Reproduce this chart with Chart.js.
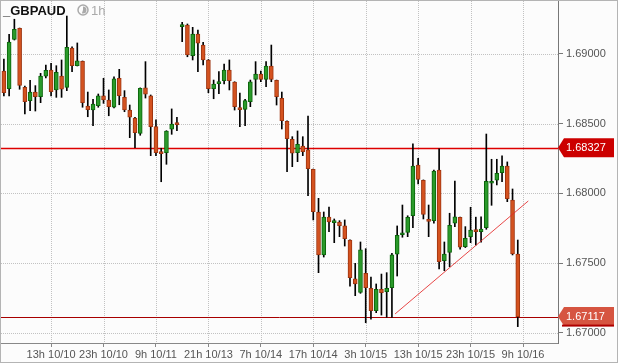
<!DOCTYPE html>
<html>
<head>
<meta charset="utf-8">
<script src="https://cdn.jsdelivr.net/npm/chart.js@4.4.0/dist/chart.umd.min.js"></script>
<style>
  html, body { margin: 0; padding: 0; background: #fcfcfc; }
  #wrap { width: 618px; height: 363px; }
</style>
</head>
<body>
<div id="wrap"><canvas id="chart" width="618" height="363"></canvas></div>
<script>
// GBPAUD 1h candles (index 0 = first candle on the left)
const opens = [1.68878,1.68751,1.69105,1.69184,1.68761,1.68665,1.68727,1.68694,1.68840,1.68885,
  1.68742,1.68842,1.68761,1.69043,1.68916,1.68948,1.68627,1.68598,1.68629,1.68699,
  1.68670,1.68618,1.68826,1.68689,1.68598,1.68541,1.68431,1.68758,1.68699,1.68479,
  1.68295,1.68292,1.68460,1.68503,1.69196,1.69208,1.68988,1.69143,1.69064,1.68957,
  1.68751,1.68787,1.68808,1.68885,1.68799,1.68615,1.68603,1.68658,1.68818,1.68856,
  1.68818,1.68914,1.68811,1.68682,1.68517,1.68388,1.68292,1.68340,1.68312,1.68173,
  1.67867,1.67559,1.67831,1.67790,1.67795,1.67767,1.67666,1.67387,1.67291,1.67427,
  1.67320,1.67159,1.67313,1.67296,1.67324,1.67564,1.67704,1.67721,1.67840,1.68204,
  1.68094,1.67812,1.67805,1.68168,1.67518,1.67578,1.67786,1.67829,1.67618,1.67690,
  1.67738,1.67726,1.67754,1.68073,1.68096,1.68149,1.68197,1.67953,1.67566];
const highs = [1.68964,1.69141,1.69249,1.69186,1.68770,1.68811,1.68773,1.68861,1.68921,1.68933,
  1.68916,1.68957,1.69272,1.69052,1.69079,1.68950,1.68727,1.68675,1.68713,1.68826,
  1.68742,1.68837,1.68890,1.68737,1.68634,1.68546,1.68757,1.68945,1.68706,1.68527,
  1.68324,1.68450,1.68606,1.68545,1.69227,1.69215,1.69191,1.69172,1.69084,1.68960,
  1.68813,1.68873,1.68928,1.68957,1.68801,1.68720,1.68675,1.68813,1.68945,1.68878,
  1.68945,1.69064,1.68813,1.68727,1.68520,1.68407,1.68448,1.68407,1.68555,1.68175,
  1.67965,1.67867,1.67903,1.67817,1.67805,1.67810,1.67668,1.67499,1.67652,1.67604,
  1.67401,1.67351,1.67422,1.67432,1.67571,1.67767,1.67917,1.67840,1.68355,1.68252,
  1.68097,1.67917,1.68168,1.68319,1.67652,1.67858,1.68089,1.67830,1.67762,1.67901,
  1.67830,1.67833,1.68426,1.68245,1.68245,1.68269,1.68226,1.68032,1.67666];
const lows = [1.68699,1.68699,1.69100,1.68747,1.68570,1.68593,1.68591,1.68651,1.68828,1.68699,
  1.68689,1.68689,1.68737,1.68873,1.68914,1.68618,1.68550,1.68486,1.68618,1.68646,
  1.68557,1.68614,1.68636,1.68586,1.68400,1.68328,1.68417,1.68684,1.68271,1.68270,
  1.68084,1.68209,1.68424,1.68450,1.69088,1.68980,1.68957,1.68873,1.68921,1.68722,
  1.68679,1.68715,1.68785,1.68742,1.68598,1.68479,1.68486,1.68622,1.68706,1.68801,
  1.68765,1.68801,1.68634,1.68462,1.68156,1.68192,1.68228,1.68271,1.67984,1.67810,
  1.67432,1.67544,1.67726,1.67647,1.67690,1.67623,1.67336,1.67267,1.67284,1.67073,
  1.67098,1.67145,1.67128,1.67112,1.67112,1.67408,1.67686,1.67690,1.67754,1.68068,
  1.67817,1.67690,1.67786,1.67458,1.67446,1.67475,1.67762,1.67600,1.67612,1.67647,
  1.67630,1.67650,1.67743,1.67915,1.68061,1.68084,1.67941,1.67559,1.67045];
const closes = [1.68722,1.69086,1.69177,1.68775,1.68658,1.68727,1.68694,1.68842,1.68883,1.68730,
  1.68869,1.68747,1.69048,1.68916,1.68950,1.68651,1.68600,1.68641,1.68699,1.68670,
  1.68622,1.68821,1.68701,1.68598,1.68546,1.68436,1.68754,1.68711,1.68479,1.68292,
  1.68285,1.68448,1.68498,1.68493,1.69208,1.68993,1.69143,1.69077,1.68957,1.68751,
  1.68785,1.68799,1.68885,1.68808,1.68622,1.68600,1.68665,1.68801,1.68856,1.68818,
  1.68914,1.68818,1.68694,1.68522,1.68393,1.68288,1.68352,1.68299,1.68177,1.67869,
  1.67559,1.67831,1.67795,1.67805,1.67769,1.67676,1.67396,1.67351,1.67595,1.67324,
  1.67159,1.67313,1.67288,1.67320,1.67559,1.67700,1.67716,1.67829,1.68197,1.68101,
  1.67850,1.67800,1.68161,1.67511,1.67566,1.67772,1.67833,1.67614,1.67678,1.67738,
  1.67726,1.67745,1.68087,1.68082,1.68144,1.68197,1.67962,1.67566,1.67117];

// axis labels
const xTickPos = [9, 19, 29, 39, 49, 59, 69, 79, 89, 99];
const xTickLabels = ['13h 10/10','23h 10/10','9h 10/11','21h 10/13','7h 10/14',
  '17h 10/14','3h 10/15','13h 10/15','23h 10/15','9h 10/16'];
const yTicks = [1.670, 1.675, 1.680, 1.685, 1.690];

// levels and trend line
const resistance = 1.68327;
const lastPrice = 1.67117;
const trendX = [74.6, 100];
const trendY = [1.67136, 1.67946];

const FONT = 'Liberation Sans, Arial, sans-serif';
const idx = opens.map((_, i) => i);
const isUp = i => closes[i] >= opens[i];

function drawTag(ctx, y, bg, band) {
  ctx.save();
  ctx.fillStyle = bg;
  ctx.beginPath();
  ctx.moveTo(558, y);
  ctx.lineTo(564, y - 9.5);
  ctx.lineTo(614, y - 9.5);
  ctx.lineTo(614, y + 9.5);
  ctx.lineTo(564, y + 9.5);
  ctx.closePath();
  ctx.fill();
  if (band) {
    ctx.fillStyle = band;
    ctx.fillRect(562, y + 8, 52, 2);
  }
  ctx.restore();
}

function seg(ctx, x1, y1, x2, y2) {
  ctx.beginPath();
  ctx.moveTo(x1, y1);
  ctx.lineTo(x2, y2);
  ctx.stroke();
}

const decor = {
  id: 'decor',
  beforeDraw(chart) {
    const ctx = chart.ctx;
    ctx.save();
    ctx.fillStyle = '#fcfcfc';
    ctx.fillRect(0, 0, chart.width, chart.height);
    ctx.restore();
  },
  beforeDatasetsDraw(chart) {
    const { ctx, chartArea: a, scales: { x, y } } = chart;
    ctx.save();
    // dotted grid, positions from the scales
    ctx.strokeStyle = '#c2c2c2';
    ctx.lineWidth = 1;
    ctx.setLineDash([1, 1]);
    xTickPos.forEach(v => {
      const px = Math.round(x.getPixelForValue(v)) + 0.5;
      seg(ctx, px, a.top, px, a.bottom);
    });
    yTicks.forEach(v => {
      const py = Math.round(y.getPixelForValue(v)) + 0.5;
      seg(ctx, a.left, py, a.right, py);
    });
    ctx.setLineDash([]);
    let py = Math.round(y.getPixelForValue(resistance)) + 0.5;
    ctx.strokeStyle = '#dd0000';
    ctx.lineWidth = 1.5;
    seg(ctx, a.left, py, a.right, py);
    py = Math.round(y.getPixelForValue(lastPrice)) + 0.5;
    ctx.strokeStyle = '#a80000';
    ctx.lineWidth = 1;
    seg(ctx, a.left, py, a.right, py);
    ctx.restore();
  },
  afterDraw(chart) {
    const { ctx, scales: { y } } = chart;
    ctx.save();
    // outer frame
    ctx.strokeStyle = '#b4b4b4';
    ctx.lineWidth = 1;
    ctx.strokeRect(0.5, 0.5, 617, 362);
    // title
    ctx.fillStyle = '#111';
    ctx.font = 'bold 13px ' + FONT;
    ctx.textBaseline = 'alphabetic';
    ctx.fillText('_GBPAUD', 3, 15);
    // clock icon + period
    ctx.strokeStyle = '#aaa';
    ctx.lineWidth = 1.5;
    ctx.beginPath(); ctx.arc(83, 10, 5, 0, Math.PI * 2); ctx.stroke();
    ctx.fillStyle = '#aaa';
    ctx.beginPath(); ctx.moveTo(83, 10); ctx.arc(83, 10, 3.5, -Math.PI / 2, Math.PI * 0.6); ctx.closePath(); ctx.fill();
    ctx.font = '13px ' + FONT;
    ctx.fillText('1h', 91, 15);
    // price tags
    const r = y.getPixelForValue(resistance);
    const l = y.getPixelForValue(lastPrice);
    drawTag(ctx, r, '#cc0000', null);
    drawTag(ctx, l, '#d65541', '#b00000');
    ctx.fillStyle = '#fff';
    ctx.font = '11px ' + FONT;
    ctx.textBaseline = 'middle';
    ctx.fillText(resistance.toFixed(5), 566, r);
    ctx.fillText(lastPrice.toFixed(5), 566, l);
    ctx.restore();
  }
};

new Chart(document.getElementById('chart').getContext('2d'), {
  type: 'bar',
  data: {
    datasets: [
      {
        label: 'body',
        order: 1,
        grouped: false,
        data: idx.map(i => ({ x: i, y: [opens[i], closes[i]] })),
        backgroundColor: idx.map(i => isUp(i) ? '#2a9a2a' : '#d4521f'),
        borderColor: idx.map(i => isUp(i) ? '#0b650b' : '#9e3510'),
        borderWidth: 1,
        borderSkipped: false,
        barThickness: 4,
        minBarLength: 2
      },
      {
        label: 'wick',
        order: 2,
        grouped: false,
        data: idx.map(i => ({ x: i, y: [lows[i], highs[i]] })),
        backgroundColor: '#000',
        borderWidth: 0,
        barThickness: 1
      },
      {
        type: 'line',
        label: 'trend',
        order: 0,
        data: trendX.map((x, k) => ({ x: x, y: trendY[k] })),
        borderColor: 'rgba(228,40,40,0.85)',
        borderWidth: 1,
        pointRadius: 0,
        fill: false
      }
    ]
  },
  options: {
    responsive: false,
    animation: false,
    layout: { padding: { left: 1, top: 1, right: 0, bottom: 0 } },
    plugins: { legend: { display: false }, tooltip: { enabled: false } },
    scales: {
      x: {
        type: 'linear',
        offset: false,
        min: -0.55,
        max: 105.67,
        afterBuildTicks: s => { s.ticks = xTickPos.map(v => ({ value: v })); },
        afterFit: s => { s.height = 20; s.paddingLeft = 0; s.paddingRight = 0; },
        ticks: {
          autoSkip: false,
          maxRotation: 0,
          padding: 1,
          color: '#555',
          font: { family: FONT, size: 11 },
          callback: v => { const k = xTickPos.indexOf(v); return k >= 0 ? xTickLabels[k] : ''; }
        },
        grid: { drawOnChartArea: false, offset: false, tickColor: '#888', tickLength: 4 },
        border: { display: true, color: '#888', width: 1 }
      },
      y: {
        position: 'right',
        min: 1.669277,
        max: 1.693798,
        afterBuildTicks: s => { s.ticks = yTicks.map(v => ({ value: v })); },
        afterFit: s => { s.width = 60; s.paddingTop = 0; s.paddingBottom = 0; },
        ticks: {
          padding: 3,
          color: '#555',
          font: { family: FONT, size: 11 },
          callback: v => v.toFixed(5)
        },
        grid: { drawOnChartArea: false, tickColor: '#777', tickLength: 5 },
        border: { display: true, color: '#777', width: 1 }
      }
    }
  },
  plugins: [decor]
});
</script>
</body>
</html>
